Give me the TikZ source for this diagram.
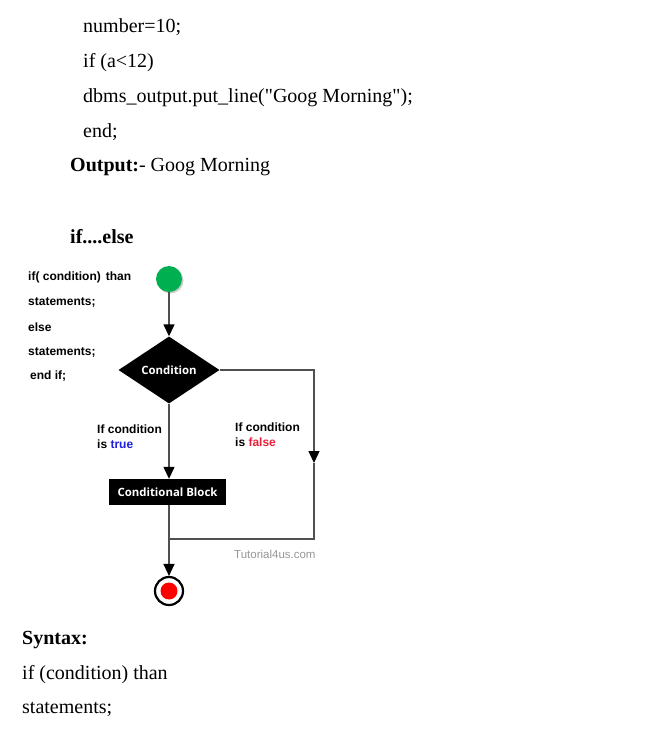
\documentclass[tikz,border=0pt]{standalone}
\usepackage{fontspec}
\setmainfont{Liberation Serif}
\newfontfamily\arialf{Liberation Sans}
\newfontfamily\osans{Open Sans}
\usetikzlibrary{shapes.geometric,arrows.meta}
\newcommand\straightdq{\XeTeXglyph\XeTeXcharglyph"22\relax}
\definecolor{startgreen}{RGB}{0,176,80}
\definecolor{linegray}{RGB}{80,80,80}
\definecolor{truecol}{RGB}{30,30,220}
\definecolor{falsecol}{RGB}{232,32,58}
\definecolor{wmgray}{RGB}{150,150,150}
\tikzset{
  doc/.style={anchor=base west, inner sep=0pt, font=\fontsize{20}{24}\selectfont},
  side/.style={anchor=base west, inner sep=0pt, font=\arialf\bfseries\fontsize{12}{14}\selectfont},
  lbl/.style={anchor=west, inner sep=0pt, align=left, font=\arialf\bfseries\fontsize{12}{15}\selectfont},
  conn/.style={draw=linegray, line width=1.4pt},
  arr/.style={conn, -{Triangle[width=11pt,length=12pt,color=black]}},
  blk/.style={fill=black, text=white, inner sep=0pt, font=\osans\bfseries\fontsize{11.4}{13}\selectfont}
}
\begin{document}
\begin{tikzpicture}[x=1pt,y=-1pt]
\useasboundingbox (0,0) rectangle (651,745);
% document text
\node[doc] (t1) at (83,32) {number=10;};
\node[doc] (t2) at (83,67) {if (a<12)};
\node[doc] (t3) at (83,102) {dbms\_output.put\_line(\straightdq Goog Morning\straightdq);};
\node[doc] (t4) at (83,137) {end;};
\node[doc] (t5) at (70,171) {\textbf{Output:}- Goog Morning};
\node[doc] (t6) at (70,243) {\textbf{if....else}};
\node[doc] (t7) at (22,644) {\textbf{Syntax:}};
\node[doc] (t8) at (22,679) {if (condition) than};
\node[doc] (t9) at (22,713) {statements;};
% side syntax
\node[side] (s1) at (28,280) {if( condition)\hspace{5pt}than};
\node[side] (s2) at (28,305) {statements;};
\node[side] (s3) at (28,331) {else};
\node[side] (s4) at (28,355) {statements;};
\node[side] (s5) at (30,379) {end if;};
% flowchart
\fill[gray!40] (170.5,280.5) circle (13);
\node[circle, fill=startgreen, minimum size=26pt, inner sep=0pt] (start) at (169,279) {};
\node[diamond, blk, aspect=1.5, minimum width=101pt, minimum height=67pt] (cond) at (169,370) {Condition};
\node[blk, minimum width=117pt, minimum height=26pt] (block) at (167.5,492) {Conditional Block};
\node[circle, draw=black, line width=2.2pt, fill=white, minimum size=28pt, inner sep=0pt] (stop) at (169,591) {};
\node[circle, fill=red, minimum size=17pt, inner sep=0pt] (stopin) at (stop.center) {};
\coordinate (fa) at (314,463);
\coordinate (fb) at (314,539);
\coordinate (fc) at (169,539);
\draw[arr] (start.south) -- (cond.north);
\draw[arr] (cond.south) -- (block.north -| cond.south);
\draw[arr] (cond.east) -| (fa);
\draw[conn] (fa) -- (fb) -- (fc);
\draw[arr] (block.south -| cond.south) -- (stop.north);
% labels
\node[lbl] (ltrue) at (97,437) {If condition\\is \textcolor{truecol}{true}};
\node[lbl] (lfalse) at (235,435) {If condition\\is \textcolor{falsecol}{false}};
\node[anchor=west, inner sep=0pt, text=wmgray, font=\arialf\fontsize{11.5}{13}\selectfont] (wm) at (234,554) {Tutorial4us.com};
\end{tikzpicture}
\end{document}
